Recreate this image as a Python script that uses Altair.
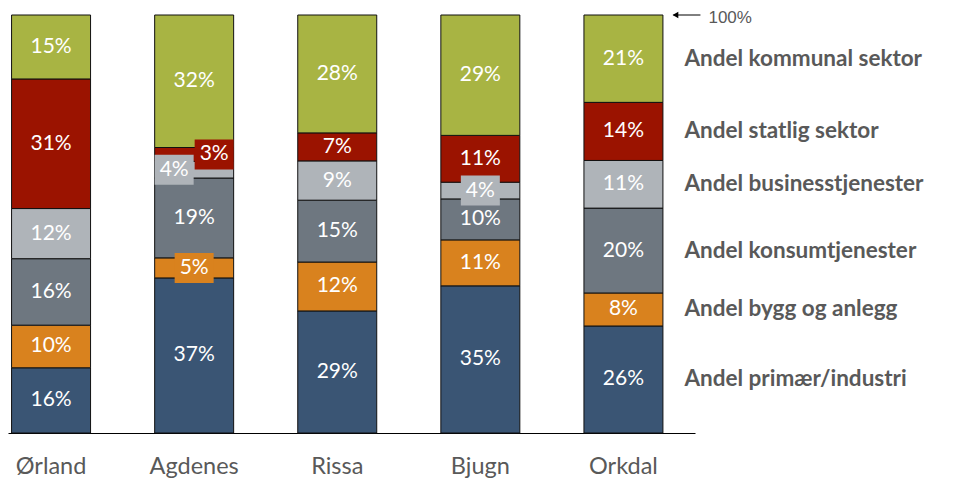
import altair as alt
import pandas as pd

kommuner = ["Ørland", "Agdenes", "Rissa", "Bjugn", "Orkdal"]
sektorer = ["Andel primær/industri", "Andel bygg og anlegg", "Andel konsumtjenester",
            "Andel businesstjenester", "Andel statlig sektor", "Andel kommunal sektor"]
farger = ["#3A5574", "#D9821E", "#6E7780", "#AFB4B9", "#9B1300", "#A8B443"]

primaer = [15.6, 37.1, 29.2, 35.2, 25.6]
bygg = [10.2, 4.8, 11.7, 11.0, 7.9]
konsum = [15.9, 19.1, 14.8, 9.8, 20.3]
business = [12.0, 4.0, 9.4, 4.0, 11.4]
statlig = [31.0, 3.3, 6.7, 11.2, 13.9]
kommunal = [15.3, 31.7, 28.2, 28.8, 20.9]

# small segments whose labels get a coloured box; value = horizontal shift group
boks = {("Agdenes", 1): "midt", ("Agdenes", 3): "venstre",
        ("Agdenes", 4): "hoyre", ("Bjugn", 3): "midt"}

serier = [primaer, bygg, konsum, business, statlig, kommunal]
rows = []
for i, k in enumerate(kommuner):
    cum = 0
    for j, s in enumerate(sektorer):
        v = serier[j][i]
        g = boks.get((k, j), "normal")
        rows.append(dict(kommune=k, sektor=s, verdi=v, start=cum, slutt=cum + v,
                         midt=cum + v / 2, label=f"{int(v + 0.5)}%", gruppe=g))
        cum += v
df = pd.DataFrame(rows)

FONT = "Lato"
GREY = "#595959"

X = alt.X("kommune:N", sort=kommuner,
          scale=alt.Scale(paddingInner=0.448, paddingOuter=0.1245, align=0.1),
          axis=alt.Axis(title=None, labelAngle=0, ticks=False, domainColor="black",
                        domainWidth=1, labelFontSize=23.5, labelColor=GREY,
                        labelFont=FONT, labelPadding=21, grid=False))
Yscale = alt.Scale(domain=[0, 100])
col = alt.Color("sektor:N", scale=alt.Scale(domain=sektorer, range=farger), legend=None)

base = alt.Chart(df)

bars = base.mark_bar(stroke="#111111", strokeWidth=1).encode(
    x=X, y=alt.Y("start:Q", scale=Yscale, axis=None), y2="slutt:Q", color=col)

shifts = {"normal": 0, "midt": 0, "venstre": -20, "hoyre": 20}
boxpath = "M-1,-0.77L1,-0.77L1,0.77L-1,0.77Z"

layers = [bars]
for g in ["midt", "venstre", "hoyre"]:
    layers.append(
        base.transform_filter(alt.datum.gruppe == g).mark_point(
            shape=boxpath, size=1521, filled=True, opacity=1, strokeWidth=0,
            xOffset=shifts[g]).encode(x=X, y=alt.Y("midt:Q", scale=Yscale), color=col))
for g in ["normal", "midt", "venstre", "hoyre"]:
    layers.append(
        base.transform_filter(alt.datum.gruppe == g).mark_text(
            font=FONT, fontSize=21, color="white", baseline="middle", align="center",
            dx=shifts[g]).encode(x=X, y=alt.Y("midt:Q", scale=Yscale), text="label:N"))

right = base.transform_filter(alt.datum.kommune == "Orkdal").mark_text(
    font=FONT, fontSize=22.5, fontWeight="bold", color=GREY, align="left",
    baseline="middle", dx=61).encode(x=X, y=alt.Y("midt:Q", scale=Yscale), text="sektor:N")
layers.append(right)

ann = alt.Chart(pd.DataFrame({"kommune": ["Orkdal"], "y": [100], "t": ["100%"]}))
layers.append(ann.mark_rule(color="black", strokeWidth=1, xOffset=50, x2Offset=77).encode(
    x=X, x2="kommune:N", y=alt.Y("y:Q", scale=Yscale)))
layers.append(ann.mark_point(shape="triangle-left", size=45, filled=True, color="black",
                             opacity=1, xOffset=52).encode(x=X, y=alt.Y("y:Q", scale=Yscale)))
layers.append(ann.mark_text(font="Liberation Sans", fontSize=17, color=GREY, align="left",
                            baseline="middle", dx=85, dy=3).encode(
    x=X, y=alt.Y("y:Q", scale=Yscale), text="t:N"))

chart = alt.layer(*layers).properties(
    width=687, height=418,
    padding={"left": 0, "top": 7, "right": 250, "bottom": 50},
    autosize="none",
).configure_view(stroke=None)

chart.save("out.html", embed_options={"renderer": "svg", "actions": False})
